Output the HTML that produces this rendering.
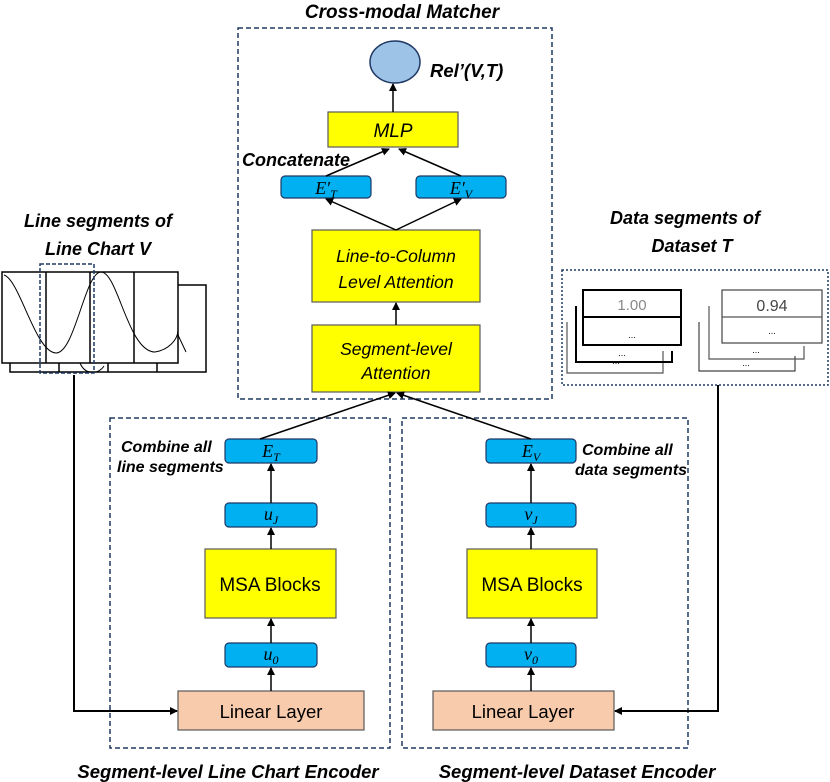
<!DOCTYPE html>
<html><head><meta charset="utf-8"><style>
html,body{margin:0;padding:0;background:#fff}
svg{display:block}
.b{font-family:"Liberation Sans",sans-serif;font-weight:bold;font-style:italic;fill:#000}
.i{font-family:"Liberation Sans",sans-serif;font-style:italic;fill:#000}
.m{font-family:"Liberation Serif",serif;font-style:italic;fill:#000}
.n{font-family:"Liberation Sans",sans-serif;fill:#000}
</style></head><body>
<svg width="830" height="782" viewBox="0 0 830 782" xmlns="http://www.w3.org/2000/svg">
<defs><marker id="a" markerWidth="8" markerHeight="8" refX="7" refY="4" orient="auto" markerUnits="userSpaceOnUse"><path d="M0,0 L8,4 L0,8 z" fill="#000"/></marker></defs>
<g fill="none" stroke="#1f3864" stroke-width="1.5" stroke-dasharray="5,3">
<rect x="238" y="28" width="314" height="371"/>
<rect x="110" y="418" width="280" height="330"/>
<rect x="402" y="418" width="286" height="330"/>
</g>
<rect x="562" y="270" width="266" height="115" fill="none" stroke="#1f3864" stroke-width="1.5" stroke-dasharray="2,2"/>
<text class="b" x="402" y="18" font-size="19" text-anchor="middle">Cross-modal Matcher</text>
<ellipse cx="395" cy="62" rx="25" ry="21" fill="#9dc3e6" stroke="#1f3864" stroke-width="1.5"/>
<text class="b" x="430" y="77" font-size="18.5">Rel’(V,T)</text>
<g stroke="#595959" stroke-width="1.2">
<rect x="328" y="112" width="130" height="35" fill="#ffff00"/>
<rect x="312" y="230" width="168" height="72" fill="#ffff00"/>
<rect x="312" y="325" width="168" height="67" fill="#ffff00"/>
<rect x="205" y="549" width="131" height="69" fill="#ffff00"/>
<rect x="467" y="549" width="130" height="69" fill="#ffff00"/>
</g>
<g fill="#00b0f0" stroke="#1f3864" stroke-width="1.2">
<rect x="281" y="176" width="90" height="22" rx="4"/>
<rect x="416" y="176" width="90" height="22" rx="4"/>
<rect x="225" y="439" width="92" height="24" rx="4"/>
<rect x="225" y="503" width="92" height="24" rx="4"/>
<rect x="225" y="643" width="92" height="24" rx="4"/>
<rect x="486" y="439" width="90" height="24" rx="4"/>
<rect x="486" y="503" width="90" height="24" rx="4"/>
<rect x="486" y="643" width="90" height="24" rx="4"/>
</g>
<g fill="#f8cbad" stroke="#595959" stroke-width="1.2">
<rect x="178" y="691" width="186" height="39"/>
<rect x="433" y="691" width="181" height="39"/>
</g>
<text class="i" x="393" y="137" font-size="19" text-anchor="middle">MLP</text>
<text class="i" x="396" y="262" font-size="17.5" text-anchor="middle">Line-to-Column</text>
<text class="i" x="396" y="288" font-size="17.5" text-anchor="middle">Level Attention</text>
<text class="i" x="396" y="355" font-size="17.5" text-anchor="middle">Segment-level</text>
<text class="i" x="396" y="379" font-size="17.5" text-anchor="middle">Attention</text>
<text class="n" x="270" y="591" font-size="19" text-anchor="middle">MSA Blocks</text>
<text class="n" x="532" y="591" font-size="19" text-anchor="middle">MSA Blocks</text>
<text class="n" x="271" y="718" font-size="18.5" text-anchor="middle">Linear Layer</text>
<text class="n" x="523" y="718" font-size="18.5" text-anchor="middle">Linear Layer</text>
<g class="m" font-size="18" text-anchor="middle">
<text x="326" y="194">E′<tspan font-size="12" dy="4">T</tspan></text>
<text x="461" y="194">E′<tspan font-size="12" dy="4">V</tspan></text>
<text x="271" y="457">E<tspan font-size="12" dy="4">T</tspan></text>
<text x="271" y="520">u<tspan font-size="12" dy="4">J</tspan></text>
<text x="271" y="660">u<tspan font-size="12" dy="4">0</tspan></text>
<text x="531" y="457">E<tspan font-size="12" dy="4">V</tspan></text>
<text x="531" y="520">v<tspan font-size="12" dy="4">J</tspan></text>
<text x="531" y="660">v<tspan font-size="12" dy="4">0</tspan></text>
</g>
<text class="b" x="242" y="166" font-size="18">Concatenate</text>
<text class="b" x="121" y="452" font-size="16">Combine all</text>
<text class="b" x="117" y="472" font-size="16">line segments</text>
<text class="b" x="582" y="455" font-size="16">Combine all</text>
<text class="b" x="575" y="475" font-size="16">data segments</text>
<text class="b" x="228" y="778" font-size="18.5" text-anchor="middle">Segment-level Line Chart Encoder</text>
<text class="b" x="577" y="778" font-size="18.5" text-anchor="middle">Segment-level Dataset Encoder</text>
<text class="b" x="98" y="227" font-size="18" text-anchor="middle">Line segments of</text>
<text class="b" x="98" y="255" font-size="18" text-anchor="middle">Line Chart V</text>
<text class="b" x="685" y="224" font-size="18" text-anchor="middle">Data segments of</text>
<text class="b" x="692" y="252" font-size="18" text-anchor="middle">Dataset T</text>
<!-- line chart -->
<g fill="none" stroke="#000" stroke-width="1.5">
<path d="M178,285 H206 V372 H10 V363"/>
<path d="M59,363 V372 M108,363 V372 M157,363 V372"/>
<rect x="2" y="272" width="176" height="91" fill="#fff"/>
<path d="M46,272 V363 M90,272 V363 M134,272 V363"/>
<path d="M4,275 C20,280 35,352 56,353 C75,353 85,272 101,272 C118,272 128,352 155,352 C168,350 178,340 178,330" stroke-width="1"/>
<path d="M178,335 L186,352" stroke-width="1"/>
<path d="M80,363 C85,375 98,375 104,366" stroke-width="1"/>
</g>
<rect x="40" y="264" width="54" height="109" fill="none" stroke="#1f3864" stroke-width="1.5" stroke-dasharray="4,2"/>
<!-- data tables -->
<g fill="none" stroke-width="1.2">
<path d="M567,322 V373 H663 V351" stroke="#555"/>
<path d="M576,306 V362 H672 V351" stroke="#000" stroke-width="2"/>
<rect x="583" y="290" width="98" height="55" fill="#fff" stroke="#000" stroke-width="2"/>
<path d="M583,317 H681" stroke="#000" stroke-width="2"/>
<path d="M699,322 V371 H795 V356" stroke="#444"/>
<path d="M709,306 V359 H804 V346" stroke="#555"/>
<rect x="722" y="290" width="100" height="53" fill="#fff" stroke="#444"/>
<path d="M722,317 H822" stroke="#555"/>
</g>
<g class="n" font-size="15" text-anchor="middle">
<text x="632" y="310" fill="#888">1.00</text>
<text x="772" y="311" font-size="16" fill="#444">0.94</text>
</g>
<g class="n" font-size="9" fill="#666" text-anchor="middle">
<text x="632" y="338">...</text><text x="622" y="356">...</text><text x="616" y="364">...</text>
<text x="772" y="334">...</text><text x="756" y="353">...</text><text x="746" y="366">...</text>
</g>
<!-- arrows -->
<g stroke="#000" stroke-width="1.5" fill="none">
<line x1="393" y1="112" x2="393" y2="84" marker-end="url(#a)"/>
<line x1="326" y1="176" x2="389" y2="149" marker-end="url(#a)"/>
<line x1="461" y1="176" x2="399" y2="149" marker-end="url(#a)"/>
<line x1="396" y1="230" x2="326" y2="199" marker-end="url(#a)"/>
<line x1="396" y1="230" x2="461" y2="199" marker-end="url(#a)"/>
<line x1="396" y1="325" x2="396" y2="303" marker-end="url(#a)"/>
<line x1="260" y1="439" x2="395" y2="393" marker-end="url(#a)"/>
<line x1="531" y1="439" x2="397" y2="393" marker-end="url(#a)"/>
<line x1="271" y1="503" x2="271" y2="464" marker-end="url(#a)"/>
<line x1="271" y1="549" x2="271" y2="528" marker-end="url(#a)"/>
<line x1="271" y1="643" x2="271" y2="619" marker-end="url(#a)"/>
<line x1="271" y1="691" x2="271" y2="668" marker-end="url(#a)"/>
<line x1="531" y1="503" x2="531" y2="464" marker-end="url(#a)"/>
<line x1="531" y1="549" x2="531" y2="528" marker-end="url(#a)"/>
<line x1="531" y1="643" x2="531" y2="619" marker-end="url(#a)"/>
<line x1="531" y1="691" x2="531" y2="668" marker-end="url(#a)"/>
<path d="M74,375 V711 H177" stroke-width="2" marker-end="url(#a)"/>
<path d="M718,385 V711 H615" stroke-width="2" marker-end="url(#a)"/>
</g>
</svg>
</body></html>
